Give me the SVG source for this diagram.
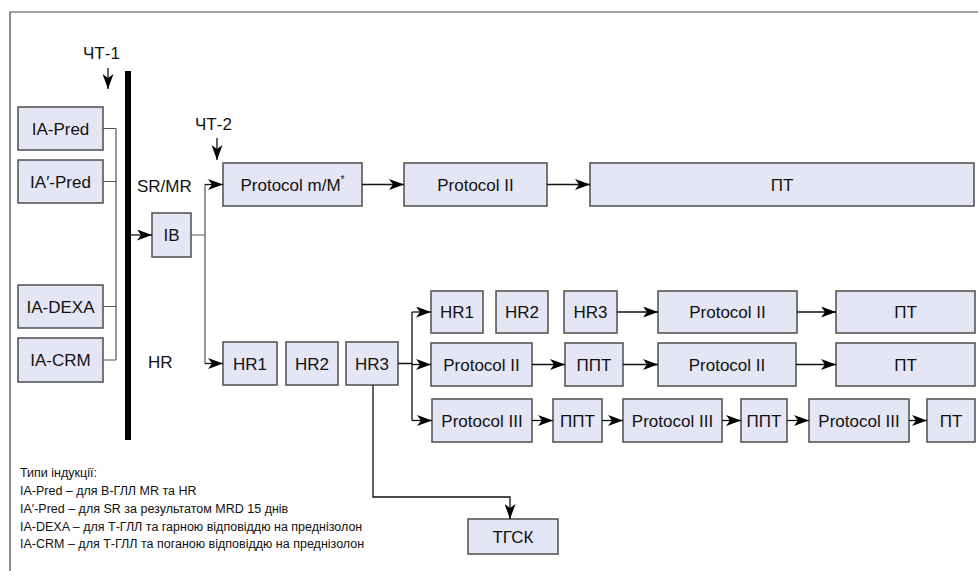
<svg xmlns="http://www.w3.org/2000/svg" width="978" height="571" viewBox="0 0 978 571">
<style>
text{font-family:"Liberation Sans",Arial,sans-serif;fill:#111}
.t{font-size:17px;text-anchor:middle}
.lab{font-size:17px}
.leg{font-size:12.5px}
.box{fill:#e4e6f6;stroke:#4d4d4d;stroke-width:1.5}
.c{fill:none;stroke:#111;stroke-width:1.3}
.g{fill:none;stroke:#555;stroke-width:1.2}
</style>
<defs>
<marker id="ar" markerUnits="userSpaceOnUse" markerWidth="15" markerHeight="11" refX="15" refY="5.5" orient="auto" viewBox="0 0 15 11">
<path d="M0,0 L15,5.5 L0,11 L4,5.5 z" fill="#000"/>
</marker>
</defs>
<path d="M10,571 V12 H978" fill="none" stroke="#444" stroke-width="1.2"/>
<rect x="125" y="71" width="6" height="369" fill="#000"/>
<text class="lab" x="83" y="59">ЧТ-1</text>
<text class="lab" x="195" y="130">ЧТ-2</text>
<text class="lab" x="137" y="192">SR/MR</text>
<text class="lab" x="148" y="368">HR</text>
<g id="ia-pred"><rect class="box" x="18" y="107" width="85" height="43"/><text class="t" x="60.5" y="134.5">IA-Pred</text></g>
<g id="ia2-pred"><rect class="box" x="18" y="160" width="85" height="43"/><text class="t" x="60.5" y="187.5">IA′-Pred</text></g>
<g id="ia-dexa"><rect class="box" x="18" y="285" width="85" height="43"/><text class="t" x="60.5" y="312.5">IA-DEXA</text></g>
<g id="ia-crm"><rect class="box" x="18" y="338" width="85" height="44"/><text class="t" x="60.5" y="366">IA-CRM</text></g>
<g id="ib"><rect class="box" x="152" y="213" width="39" height="44"/><text class="t" x="171.5" y="241">IB</text></g>
<g id="protocol-mM"><rect class="box" x="223" y="163" width="139" height="43"/><text class="t" x="292.5" y="190.5">Protocol m/M<tspan font-size="10" dy="-8">*</tspan></text></g>
<g id="protocol-ii-a"><rect class="box" x="404" y="163" width="143" height="43"/><text class="t" x="475.5" y="190.5">Protocol II</text></g>
<g id="pt-a"><rect class="box" x="590" y="163" width="384" height="43"/><text class="t" x="782" y="190.5">ПТ</text></g>
<g id="hr1"><rect class="box" x="223" y="342" width="54" height="43"/><text class="t" x="250" y="369.5">HR1</text></g>
<g id="hr2"><rect class="box" x="286" y="342" width="52" height="43"/><text class="t" x="312" y="369.5">HR2</text></g>
<g id="hr3"><rect class="box" x="346" y="342" width="52" height="43"/><text class="t" x="372" y="369.5">HR3</text></g>
<g id="hr1b"><rect class="box" x="431" y="291" width="52" height="42"/><text class="t" x="457" y="318">HR1</text></g>
<g id="hr2b"><rect class="box" x="496" y="291" width="52" height="42"/><text class="t" x="522" y="318">HR2</text></g>
<g id="hr3b"><rect class="box" x="564" y="291" width="53" height="42"/><text class="t" x="590.5" y="318">HR3</text></g>
<g id="protocol-ii-b"><rect class="box" x="658" y="291" width="139" height="42"/><text class="t" x="727.5" y="318">Protocol II</text></g>
<g id="pt-b"><rect class="box" x="836" y="291" width="139" height="42"/><text class="t" x="905.5" y="318">ПТ</text></g>
<g id="protocol-ii-c"><rect class="box" x="431" y="343" width="101" height="43"/><text class="t" x="481.5" y="370.5">Protocol II</text></g>
<g id="ppt-a"><rect class="box" x="565" y="343" width="58" height="43"/><text class="t" x="594" y="370.5">ППТ</text></g>
<g id="protocol-ii-d"><rect class="box" x="658" y="343" width="138" height="43"/><text class="t" x="727" y="370.5">Protocol II</text></g>
<g id="pt-c"><rect class="box" x="836" y="343" width="139" height="43"/><text class="t" x="905.5" y="370.5">ПТ</text></g>
<g id="protocol-iii-a"><rect class="box" x="432" y="399" width="100" height="43"/><text class="t" x="482" y="426.5">Protocol III</text></g>
<g id="ppt-b"><rect class="box" x="553" y="399" width="49" height="43"/><text class="t" x="577.5" y="426.5">ППТ</text></g>
<g id="protocol-iii-b"><rect class="box" x="623" y="399" width="99" height="43"/><text class="t" x="672.5" y="426.5">Protocol III</text></g>
<g id="ppt-c"><rect class="box" x="741" y="399" width="46" height="43"/><text class="t" x="764" y="426.5">ППТ</text></g>
<g id="protocol-iii-c"><rect class="box" x="809" y="399" width="100" height="43"/><text class="t" x="859" y="426.5">Protocol III</text></g>
<g id="pt-d"><rect class="box" x="927" y="399" width="48" height="43"/><text class="t" x="951" y="426.5">ПТ</text></g>
<g id="tgsk"><rect class="box" x="468" y="519" width="90" height="35"/><text class="t" x="513" y="542.5">ТГСК</text></g>
<g id="connectors">
<path class="g" d="M103,128.5 H116 M103,181.5 H116 M103,306.5 H116 M103,360 H116 M116,128.5 V360"/>
<path class="c" d="M108,68 V89" marker-end="url(#ar)"/>
<path class="c" d="M217,138 V160" marker-end="url(#ar)"/>
<path class="c" d="M131,235 H152" marker-end="url(#ar)"/>
<path class="g" d="M191,235 H205 M205,184.5 V363.5"/>
<path class="c" d="M205,184.5 H223" marker-end="url(#ar)"/>
<path class="c" d="M205,363.5 H223" marker-end="url(#ar)"/>
<path class="c" d="M362,184.5 H404" marker-end="url(#ar)"/>
<path class="c" d="M547,184.5 H590" marker-end="url(#ar)"/>
<path class="c" d="M398,363.5 H412 M412,312 V420.5"/>
<path class="c" d="M412,312 H431" marker-end="url(#ar)"/>
<path class="c" d="M412,364.5 H431" marker-end="url(#ar)"/>
<path class="c" d="M412,420.5 H432" marker-end="url(#ar)"/>
<path class="c" d="M617,312 H658" marker-end="url(#ar)"/>
<path class="c" d="M797,312 H836" marker-end="url(#ar)"/>
<path class="c" d="M532,364.5 H565" marker-end="url(#ar)"/>
<path class="c" d="M623,364.5 H658" marker-end="url(#ar)"/>
<path class="c" d="M796,364.5 H836" marker-end="url(#ar)"/>
<path class="c" d="M532,420.5 H553" marker-end="url(#ar)"/>
<path class="c" d="M602,420.5 H623" marker-end="url(#ar)"/>
<path class="c" d="M722,420.5 H741" marker-end="url(#ar)"/>
<path class="c" d="M787,420.5 H809" marker-end="url(#ar)"/>
<path class="c" d="M909,420.5 H927" marker-end="url(#ar)"/>
<path class="c" d="M373,385 V497 H510 V519" marker-end="url(#ar)"/>
</g>
<g id="legend">
<text class="leg" x="20" y="477">Типи індукції:</text>
<text class="leg" x="20" y="495">IA-Pred – для B-ГЛЛ MR та HR</text>
<text class="leg" x="20" y="513">IA′-Pred – для SR за результатом MRD 15 днів</text>
<text class="leg" x="20" y="531">IA-DEXA – для Т-ГЛЛ та гарною відповіддю на преднізолон</text>
<text class="leg" x="20" y="548">IA-CRM – для Т-ГЛЛ та поганою відповіддю на преднізолон</text>
</g>
</svg>
